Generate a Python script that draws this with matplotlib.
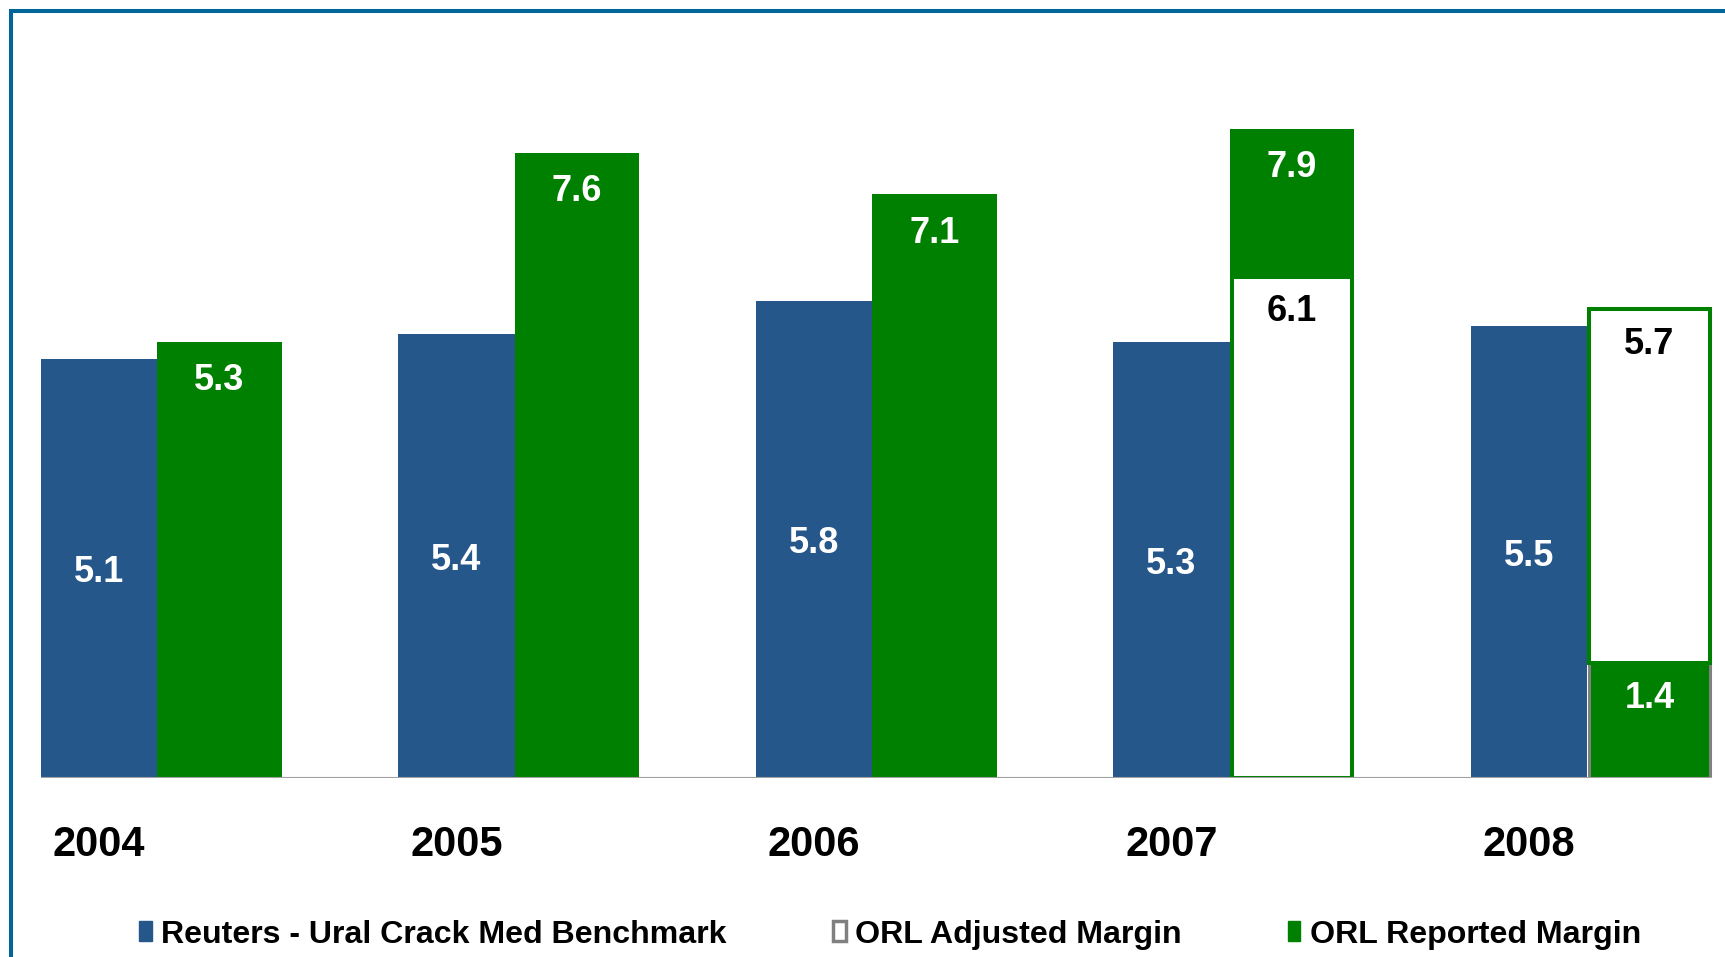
import matplotlib
matplotlib.use("Agg")
import matplotlib.pyplot as plt
import numpy as np
from matplotlib.patches import Patch
from matplotlib.lines import Line2D

years = ["2004", "2005", "2006", "2007", "2008"]
benchmark = [5.1, 5.4, 5.8, 5.3, 5.5]          # Reuters - Ural Crack Med Benchmark
reported = [5.3, 7.6, 7.1, 7.9, 1.4]           # ORL Reported Margin
adjusted = [None, None, None, 6.1, 5.7]        # ORL Adjusted Margin

blue = "#26578b"
green = "#008000"
grey = "#808080"
frame_col = "#006699"

plt.rcParams["font.family"] = ["Liberation Sans", "DejaVu Sans"]
plt.rcParams["font.weight"] = "bold"

fig = plt.figure(figsize=(17.25, 9.57), dpi=100)
ax = fig.add_axes([0, 179 / 957, 1, 778 / 957])

x = np.arange(len(years))
bw, gw = 0.326, 0.348
gx = x + (bw + gw) / 2
dy = 0.05  # nudge so glyphs sit centred like the original


def label(xp, yp, v, col):
    ax.text(xp, yp - dy, f"{v:.1f}", ha="center", va="center", color=col,
            fontsize=26, fontweight="bold", zorder=5)


# benchmark bars
bars = ax.bar(x, benchmark, bw, color=blue, zorder=2)
for b, v in zip(bars, benchmark):
    label(b.get_x() + b.get_width() / 2, v / 2, v, "white")

# reported / adjusted bars
for i in range(len(years)):
    r, a = reported[i], adjusted[i]
    if a is None:
        ax.bar(gx[i], r, gw, color=green, zorder=2)
        label(gx[i], r - 0.42, r, "white")
    elif a < r:
        ax.bar(gx[i], r, gw, color=green, zorder=2)
        ax.bar(gx[i], a, gw - 0.012, color="white", edgecolor=green,
               linewidth=2.9, zorder=3)
        label(gx[i], r - 0.42, r, "white")
        label(gx[i], a - 0.38, a, "black")
    else:
        ax.bar(gx[i], r, gw - 0.012, color=green, edgecolor=grey,
               linewidth=2.2, zorder=2)
        ax.bar(gx[i], a - r, gw - 0.012, bottom=r, color="white",
               edgecolor=green, linewidth=2.9, zorder=3)
        label(gx[i], a - 0.38, a, "black")
        label(gx[i], r - 0.38, r, "white")

# baseline
ax.hlines(0, x[0] - bw / 2, gx[-1] + gw / 2, color="#a0a0a0", linewidth=1.5, zorder=4)

ax.set_xlim(-99 / 357.5, (1725 - 99) / 357.5)
ax.set_ylim(0, 778 / 82.2)
ax.set_xticks(x, years)
ax.tick_params(axis="x", length=0, pad=33.5, labelsize=30)
for lab in ax.get_xticklabels():
    lab.set_fontweight("bold")
ax.set_yticks([])
for s in ax.spines.values():
    s.set_visible(False)
ax.patch.set_visible(False)

# legend
handles = [Patch(facecolor=blue, edgecolor=blue),
           Patch(facecolor="white", edgecolor=grey, linewidth=2.5),
           Patch(facecolor=green, edgecolor=green)]
labels = ["Reuters - Ural Crack Med Benchmark", "ORL Adjusted Margin",
          "ORL Reported Margin"]
fig.legend(handles, labels, loc="center", bbox_to_anchor=(0.516, 0.0235),
           ncol=3, frameon=False, prop={"size": 23.1, "weight": "bold"},
           handlelength=0.4, handleheight=0.55, handletextpad=0.3,
           columnspacing=3.3)

# frame lines (top and left)
fx, fy = 11 / 1725, 1 - 11 / 957
fig.add_artist(Line2D([fx, fx], [0, fy], transform=fig.transFigure,
                      color=frame_col, linewidth=2.9))
fig.add_artist(Line2D([fx, 1], [fy, fy], transform=fig.transFigure,
                      color=frame_col, linewidth=2.9))

fig.savefig("out.png", dpi=100)
